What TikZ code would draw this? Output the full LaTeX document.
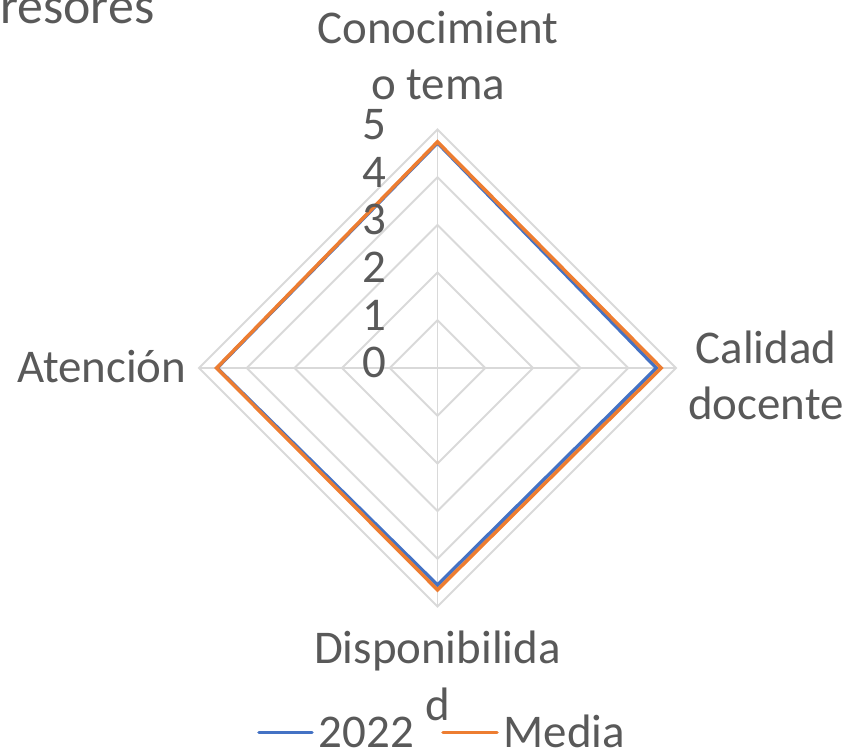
\documentclass[tikz,border=0pt]{standalone}
\usepackage{fontspec}
\setmainfont{Carlito}
\definecolor{gristexto}{HTML}{595959}
\definecolor{grisrejilla}{HTML}{D9D9D9}
\definecolor{azulserie}{HTML}{4472C4}
\definecolor{naranjaserie}{HTML}{ED7D31}

\tikzset{
  rejilla/.style={draw=grisrejilla,line width=1.1pt},
  serie/.style={line width=2pt,line join=miter},
  etiqueta/.style={text=gristexto,inner sep=0pt,font=\fontsize{26.7}{32.4}\selectfont},
}

\begin{document}
\begin{tikzpicture}[thick,every text node part/.style={align=center}]
  \useasboundingbox (-8.75,7.36) rectangle (8.31,-7.74);

    % --------------------------------------------------------- %
    % ------------- grid (levels 1 to 5 and axes)
    % --------------------------------------------------------- %
    \foreach \r in {1,...,5}
      \draw[rejilla] (90:\r*0.954) -- (0:\r*0.954) -- (270:\r*0.954) -- (180:\r*0.954) -- cycle;
    \foreach \a in {0,90,180,270}
      \draw[rejilla] (0,0) -- (\a:4.77);

    % --------------------------------------------------------- %
    % ------------- series 2022 and Media
    % --------------------------------------------------------- %
    \draw[serie,azulserie] (90:4.72*0.954) -- (0:4.59*0.954) -- (270:4.55*0.954) -- (180:4.62*0.954) -- cycle;
    \draw[serie,naranjaserie] (90:4.74*0.954) -- (0:4.69*0.954) -- (270:4.65*0.954) -- (180:4.63*0.954) -- cycle;

    % --------------------------------------------------------- %
    % ------------- scale 0 .. 5
    % --------------------------------------------------------- %
    \foreach \k in {0,...,5}
      \node[etiqueta,anchor=base east] (t\k) at (-1.01,{-0.2+\k*0.954}) {\k};

    % --------------------------------------------------------- %
    % ------------- axis labels
    % --------------------------------------------------------- %
    \node[etiqueta,font=\fontsize{29.5}{35}\selectfont,anchor=base east] (titulo) at (-5.65,6.88) {resores};
    \node[etiqueta,anchor=base] (conoc) at (0.01,5.36) {Conocimient\\o tema};
    \node[etiqueta,anchor=base] (calidad) at (6.57,-1.04) {Calidad\\docente};
    \node[etiqueta,anchor=base] (dispo) at (0,-7.04) {Disponibilida\\d};
    \node[etiqueta,anchor=base east] (atencion) at (-5.01,-0.3) {Atención};

    % --------------------------------------------------------- %
    % ------------- legend
    % --------------------------------------------------------- %
    \coordinate (l1a) at (-3.57,-7.29);
    \coordinate (l1b) at (-2.51,-7.29);
    \coordinate (l2a) at (0.11,-7.29);
    \coordinate (l2b) at (1.19,-7.29);
    \draw[serie,azulserie,line cap=round] (l1a) -- (l1b);
    \draw[serie,naranjaserie,line cap=round] (l2a) -- (l2b);
    \node[etiqueta,anchor=base west] (ley2022) at (-2.39,-7.58) {2022};
    \node[etiqueta,anchor=base west] (leymedia) at (1.31,-7.58) {Media};

  \end{tikzpicture}
\end{document}
